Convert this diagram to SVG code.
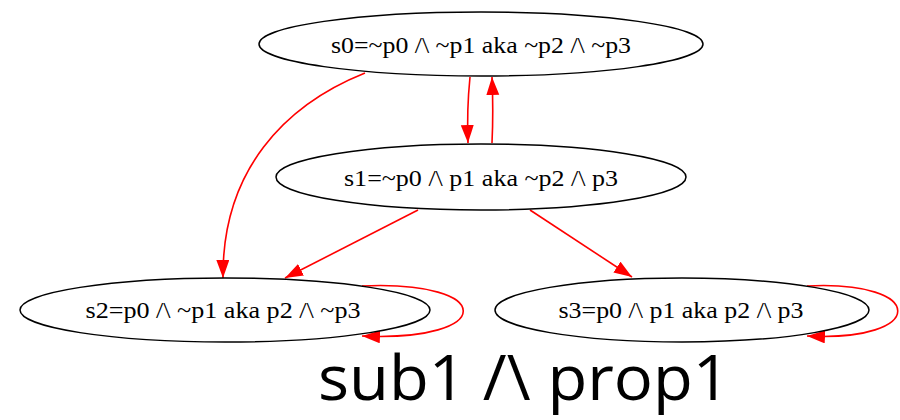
<svg xmlns="http://www.w3.org/2000/svg" width="900" height="420" viewBox="0 0 900 420">
<style>
.node ellipse{fill:#fff;stroke:#000;stroke-width:1.5}
.node text{font-family:"Liberation Serif","Times New Roman",serif;font-size:24px;fill:#000;text-anchor:middle}
.edge{fill:none;stroke:#f00;stroke-width:1.6}
.cap{font-family:"Open Sans","Liberation Sans",sans-serif;font-size:62px;fill:#000}
</style>
<defs>
<marker id="ah" markerUnits="userSpaceOnUse" markerWidth="20" markerHeight="14" refX="18" refY="6.5" orient="auto">
<path d="M0,0 L18,6.5 L0,13 z" fill="#f00"/>
</marker>
</defs>
<rect width="900" height="420" fill="#fff"/>
<g id="connectors">
<path class="edge" d="M365,73 C285,105 222,170 223,278" marker-end="url(#ah)"/>
<path class="edge" d="M470,77 C468,97 467,118 468,143" marker-end="url(#ah)"/>
<path class="edge" d="M492,143 C493,122 493,100 492,77" marker-end="url(#ah)"/>
<path class="edge" d="M418,210 L285,278" marker-end="url(#ah)"/>
<path class="edge" d="M530,210 L632,277" marker-end="url(#ah)"/>
<path class="edge" d="M362,286 C497,280 497,342 362,336" marker-end="url(#ah)"/>
<path class="edge" d="M807,286 C928,280 928,342 807,336" marker-end="url(#ah)"/>
</g>
<g id="s0" class="node">
<ellipse cx="481" cy="44" rx="222" ry="32"/>
<text x="481" y="53" textLength="300" lengthAdjust="spacingAndGlyphs">s0=~p0 /\ ~p1 aka ~p2 /\ ~p3</text>
</g>
<g id="s1" class="node">
<ellipse cx="481" cy="177" rx="205" ry="33"/>
<text x="481" y="186" textLength="274" lengthAdjust="spacingAndGlyphs">s1=~p0 /\ p1 aka ~p2 /\ p3</text>
</g>
<g id="s2" class="node">
<ellipse cx="225" cy="310" rx="205" ry="32"/>
<text x="223" y="318" textLength="275" lengthAdjust="spacingAndGlyphs">s2=p0 /\ ~p1 aka p2 /\ ~p3</text>
</g>
<g id="s3" class="node">
<ellipse cx="682" cy="310" rx="187" ry="32"/>
<text x="681" y="318" textLength="245" lengthAdjust="spacingAndGlyphs">s3=p0 /\ p1 aka p2 /\ p3</text>
</g>
<text class="cap" x="318" y="400" textLength="412" lengthAdjust="spacingAndGlyphs">sub1 /\ prop1</text>
</svg>
